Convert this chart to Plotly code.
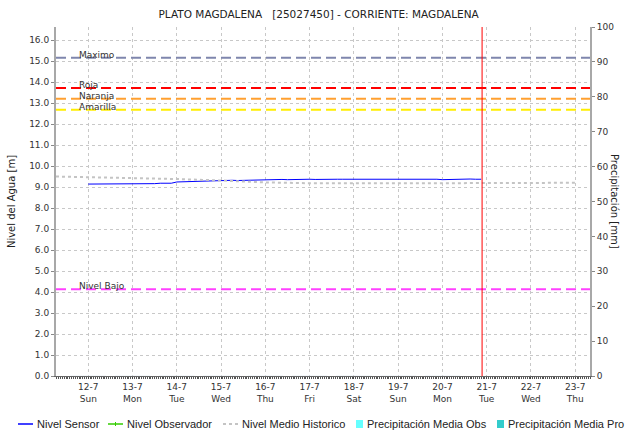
"""
Nivel del agua - PLATO MAGDALENA [25027450]

Serie del sensor, nivel medio historico y umbrales de alerta
"""

import pandas as pd
import plotly.graph_objects as go

# sensor, cada 3 horas desde 12-7 00:00 hasta 20-7 21:00
sensor_start = '2020-07-12 00:00'
sensor_level = [
    9.14, 9.14, 9.14, 9.14, 9.14, 9.14, 9.15, 9.15,   # 12-7
    9.15, 9.16, 9.14, 9.17, 9.16, 9.18, 9.17, 9.18,   # 13-7
    9.24, 9.25, 9.25, 9.27, 9.28, 9.29, 9.29, 9.30,   # 14-7
    9.30, 9.31, 9.32, 9.31, 9.32, 9.33, 9.32, 9.33,   # 15-7
    9.34, 9.35, 9.35, 9.36, 9.35, 9.36, 9.36, 9.36,   # 16-7
    9.37, 9.36, 9.37, 9.37, 9.36, 9.37, 9.37, 9.37,   # 17-7
    9.37, 9.39, 9.37, 9.37, 9.38, 9.37, 9.37, 9.37,   # 18-7
    9.37, 9.36, 9.37, 9.37, 9.37, 9.37, 9.38, 9.37,   # 19-7
    9.35, 9.36, 9.37, 9.38, 9.37, 9.38, 9.37, 9.37,   # 20-7
]

# nivel medio historico (diario)
hist_dates = ['2020-07-11 06:30', '2020-07-12 00:00', '2020-07-13 00:00', '2020-07-14 00:00',
              '2020-07-15 00:00', '2020-07-16 00:00', '2020-07-17 00:00', '2020-07-18 00:00',
              '2020-07-19 00:00', '2020-07-20 00:00', '2020-07-21 00:00', '2020-07-22 00:00',
              '2020-07-23 00:00']
hist_level = [9.50, 9.47, 9.43, 9.38, 9.31, 9.22, 9.18, 9.17, 9.17, 9.18, 9.19, 9.20, 9.20]

# umbrales
thresh_names = ['Maximo', 'Roja', 'Naranja', 'Amarilla', 'Nivel Bajo']
thresh_values = [15.16, 13.71, 13.20, 12.68, 4.13]
thresh_colors = ['#7f86ad', '#ff0000', '#ffa030', '#ffee00', '#ff40ff']

# precipitacion (sin lluvia en el periodo)
precip_dates = ['2020-07-12', '2020-07-13', '2020-07-14', '2020-07-15', '2020-07-16',
                '2020-07-17', '2020-07-18', '2020-07-19', '2020-07-20']
precip_obs = [0, 0, 0, 0, 0, 0, 0, 0, 0]
precip_pro = [0, 0, 0, 0, 0, 0, 0, 0, 0]

now_marker = '2020-07-20 21:30'

tick_days = pd.date_range('2020-07-12', '2020-07-23', freq='D')
tick_text = [f"{d.day}-{d.month}<br>{d.strftime('%a')}" for d in tick_days]

FONT = 'DejaVu Sans'
LEG_FONT = 'Liberation Sans'

# area del grafico en pixeles
W, H = 631, 431
L, R, T, B = 56, 41, 27, 55
PW, PH = W - L - R, H - T - B


def px(x):
    return (x - L) / PW


def py(y):
    return (H - B - y) / PH


sensor_time = pd.date_range(sensor_start, periods=len(sensor_level), freq='3h')

fig = go.Figure()

fig.add_trace(go.Scatter(
    x=sensor_time, y=sensor_level, mode='lines', name='Nivel Sensor',
    line=dict(color='#0000ff', width=1),
))
fig.add_trace(go.Scatter(
    x=[], y=[], mode='lines+markers', name='Nivel Observador',
    line=dict(color='#33cc00', width=1), marker=dict(symbol='cross', size=4),
))
fig.add_trace(go.Scatter(
    x=pd.to_datetime(hist_dates, format='mixed'), y=hist_level, mode='lines',
    name='Nivel Medio Historico',
    line=dict(color='#c4c4c4', width=2, dash='dot'),
))
fig.add_trace(go.Bar(
    x=pd.to_datetime(precip_dates), y=precip_obs, name='Precipitación Media Obs',
    marker_color='#66ffff', yaxis='y2',
))
fig.add_trace(go.Bar(
    x=pd.to_datetime(precip_dates), y=precip_pro, name='Precipitación Media Pro',
    marker_color='#33cccc', yaxis='y2',
))

# lineas de umbral
for name, val, col in zip(thresh_names, thresh_values, thresh_colors):
    fig.add_hline(y=val, line_dash='10px,5px', line_color=col, line_width=2)
    fig.add_annotation(
        text=name, xref='paper', yref='y', x=px(77), y=val,
        xanchor='left', yanchor='bottom', yshift=-4, showarrow=False,
        font=dict(family=FONT, size=9, color='#333333'),
    )

# fecha actual
fig.add_vline(x=pd.Timestamp(now_marker), line_color='#ff0000', line_width=1)

# titulo eje derecho (lectura de arriba hacia abajo)
fig.add_annotation(
    text='Precipitación [mm]', xref='paper', yref='paper', x=px(622), y=0.5,
    textangle=90, showarrow=False, font=dict(family=FONT, size=10, color='#222222'),
)

# leyenda dibujada a mano (estilo JFreeChart, compacta)
leg_y = py(424)
legend_items = [
    ('line', '#0000ff', 'solid', 18, 'Nivel Sensor'),
    ('line', '#33cc00', 'solid', 108, 'Nivel Observador'),
    ('line', '#c4c4c4', 'dot', 223, 'Nivel Medio Historico'),
    ('box', '#66ffff', None, 356, 'Precipitación Media Obs'),
    ('box', '#33cccc', None, 497, 'Precipitación Media Pro'),
]
for kind, col, dash, x0, label in legend_items:
    if kind == 'line':
        fig.add_shape(type='line', xref='paper', yref='paper',
                      x0=px(x0), x1=px(x0 + 15), y0=leg_y, y1=leg_y,
                      line=dict(color=col, width=1.5 if dash == 'solid' else 2, dash=dash))
        if label == 'Nivel Observador':
            fig.add_shape(type='line', xref='paper', yref='paper',
                          x0=px(x0 + 7.5), x1=px(x0 + 7.5), y0=py(422), y1=py(426),
                          line=dict(color=col, width=1))
        tx = x0 + 17
    else:
        fig.add_shape(type='rect', xref='paper', yref='paper',
                      x0=px(x0), x1=px(x0 + 7), y0=py(428), y1=py(420),
                      line=dict(width=0), fillcolor=col)
        tx = x0 + 9
    fig.add_annotation(
        text=label, xref='paper', yref='paper', x=px(tx), y=leg_y,
        xanchor='left', yanchor='middle', showarrow=False,
        font=dict(family=LEG_FONT, size=11, color='#222222'),
    )

fig.update_layout(
    width=W, height=H,
    margin=dict(l=L, r=R, t=T, b=B, autoexpand=False),
    paper_bgcolor='white', plot_bgcolor='white',
    font=dict(family=FONT, size=10, color='#333333'),
    title=dict(
        text='PLATO MAGDALENA   [25027450] - CORRIENTE: MAGDALENA',
        font=dict(family=FONT, size=10.5, color='#222222'),
        x=0.505, xanchor='center', y=1 - 14 / H, yanchor='middle',
    ),
    showlegend=False,
    bargap=0.2,
    xaxis=dict(
        range=['2020-07-11 06:30', '2020-07-23 08:00'],
        tickvals=tick_days, ticktext=tick_text,
        showgrid=True, gridcolor='#c8c8c8', griddash='dot', gridwidth=1,
        showline=True, linecolor='#666666', linewidth=1,
        ticks='outside', ticklen=2, tickcolor='#444444',
        minor=dict(dtick=3600000, ticks='outside', ticklen=2, tickcolor='#555555', showgrid=False),
        tickfont=dict(family=FONT, size=9, color='#333333'),
        zeroline=False, automargin=False,
    ),
    yaxis=dict(
        range=[0, 16.62], tickvals=list(range(0, 17)), tickformat='.1f',
        showgrid=True, gridcolor='#c8c8c8', griddash='dot', gridwidth=1,
        showline=True, linecolor='#a8a8a8', linewidth=2,
        ticks='outside', ticklen=3, tickcolor='#888888',
        tickfont=dict(family=FONT, size=9, color='#333333'),
        title=dict(text='Nivel del Agua [m]', font=dict(family=FONT, size=10, color='#222222'), standoff=12),
        zeroline=False, automargin=False,
    ),
    yaxis2=dict(
        overlaying='y', side='right', range=[0, 100], dtick=10,
        showgrid=False, showline=True, linecolor='#a8a8a8', linewidth=2,
        ticks='outside', ticklen=3, tickcolor='#888888',
        tickfont=dict(family=FONT, size=9, color='#333333'),
        zeroline=False, automargin=False,
    ),
)

# quitar el margen por defecto del body y la barra de herramientas
fig.write_html('out.html', config={'displayModeBar': False},
               post_script="document.body.style.margin='0';")
